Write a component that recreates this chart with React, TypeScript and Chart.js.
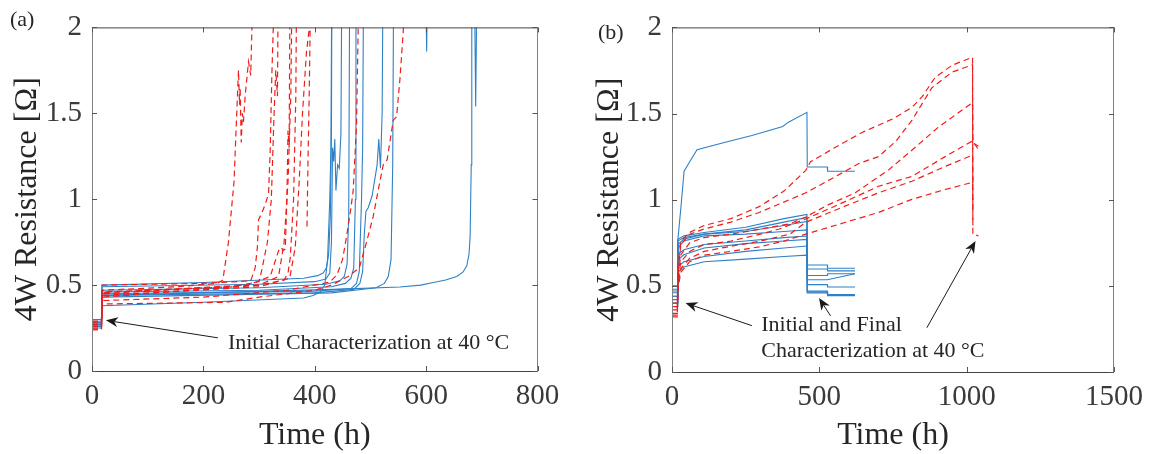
import React, { useEffect, useRef } from 'react';
import { Chart, registerables } from 'chart.js';
Chart.register(...registerables);

type P = [number, number];

// ---------- Panel (a) data: [time h, resistance Ohm] ----------
const aBlue1: P[] = [[0,0.30],[17,0.30],[18,0.50],[200,0.515],[380,0.54],[405,0.555],[415,0.57],[421,0.60],[425,0.68],[428,0.9],[430,1.4],[431,2.5]];
const aBlue2: P[] = [[0,0.29],[17,0.29],[18,0.49],[300,0.505],[400,0.52],[420,0.535],[427,0.57],[430,0.75],[432,1.3],[434,1.22],[436,1.35],[438,1.05],[441,1.2],[444,1.18],[447,1.38],[449,2.5]];
const aBlue3: P[] = [[0,0.28],[17,0.28],[18,0.47],[300,0.485],[420,0.505],[445,0.525],[453,0.55],[458,0.62],[461,0.9],[463,2.5],[598,2.5],[601,1.86],[603,2.5]];
const aBlue4: P[] = [[0,0.28],[17,0.28],[18,0.46],[300,0.47],[430,0.49],[455,0.51],[465,0.54],[470,0.6],[473,1.0],[474,2.5]];
const aBlue5: P[] = [[0,0.27],[17,0.27],[18,0.45],[400,0.465],[465,0.48],[475,0.51],[480,0.58],[484,1.0],[486,1.3],[488,2.5]];
const aBlue6: P[] = [[0,0.27],[17,0.27],[18,0.44],[400,0.455],[470,0.475],[481,0.51],[486,0.58],[489,0.8],[492,0.93],[496,0.95],[503,1.02],[512,1.2],[515,1.35],[518,1.18],[521,1.5],[523,2.5]];
const aBlue7: P[] = [[0,0.26],[17,0.26],[18,0.43],[430,0.455],[510,0.485],[525,0.51],[532,0.55],[537,0.65],[540,1.2],[542,2.5]];
const aBlue8: P[] = [[0,0.25],[17,0.25],[18,0.38],[200,0.40],[380,0.425],[397,0.44],[410,0.46],[418,0.50],[423,0.65],[427,1.0],[429,1.3],[431,2.5]];
const aBlue9: P[] = [[0,0.26],[17,0.26],[18,0.44],[200,0.455],[433,0.475],[553,0.489],[590,0.50],[613,0.515],[635,0.53],[655,0.55],[666,0.575],[673,0.612],[677,0.68],[679,0.782],[681,1.2],[682,2.5],[686,2.5],[689,1.54],[692,2.5]];

const aRed1: P[] = [[0,0.27],[17,0.27],[18,0.47],[150,0.49],[225,0.51],[235,0.53],[245,0.75],[255,1.1],[263,1.75],[265,1.55],[266,1.65],[268,1.33],[270,1.5],[272,1.45],[275,1.6],[281,1.8],[285,1.72],[288,2.1],[292,2.5]];
const aRed2: P[] = [[0,0.26],[17,0.26],[18,0.50],[200,0.51],[285,0.525],[293,0.6],[297,0.72],[299,0.88],[305,0.92],[311,0.97],[317,1.03],[320,1.28],[323,1.73],[326,2.05],[328,2.5]];
const aRed3: P[] = [[0,0.25],[17,0.25],[18,0.46],[250,0.49],[300,0.52],[305,0.59],[315,0.75],[322,1.0],[327,1.5],[330,1.75],[333,1.6],[335,2.5]];
const aRed4: P[] = [[0,0.29],[17,0.29],[18,0.455],[280,0.50],[320,0.55],[335,0.70],[340,0.72],[343,0.70],[347,0.71],[350,1.0],[352,1.4],[354,1.3],[356,2.5]];
const aRed5: P[] = [[0,0.28],[17,0.28],[18,0.45],[300,0.50],[345,0.53],[352,0.57],[356,0.66],[362,1.0],[366,1.6],[368,2.5]];
const aRed6: P[] = [[0,0.27],[17,0.27],[18,0.44],[300,0.49],[355,0.54],[365,0.72],[372,1.1],[378,1.5],[385,1.85],[392,2.05],[390,1.6],[388,1.25],[386,0.82]];
const aRed7: P[] = [[0,0.26],[17,0.26],[18,0.43],[300,0.50],[335,0.55],[345,0.75],[352,1.1],[357,1.6],[360,2.5]];
const aRed8: P[] = [[0,0.24],[17,0.24],[18,0.41],[200,0.43],[350,0.47],[427,0.517],[440,0.56],[450,0.65],[457,0.78],[465,0.95],[469,1.05],[475,1.43],[478,2.0],[480,2.5]];
const aRed9: P[] = [[0,0.24],[17,0.24],[18,0.39],[240,0.40],[300,0.43],[400,0.47],[430,0.50],[460,0.55],[480,0.60],[493,0.75],[505,0.90],[515,1.07],[523,1.2],[530,1.23],[541,1.46],[547,1.48],[553,1.7],[559,1.98],[562,2.5]];

// ---------- Panel (b) data ----------
const bBlueTop: P[] = [[0,0.44],[18,0.44],[20,0.77],[30,0.95],[41,1.165],[60,1.22],[85,1.29],[184,1.335],[271,1.373],[376,1.425],[395,1.45],[458,1.507],[459,1.19],[527,1.19],[528,1.165],[621,1.165]];
const bBlue1: P[] = [[0,0.50],[18,0.50],[20,0.77],[40,0.79],[109,0.81],[250,0.84],[380,0.89],[458,0.915],[459,0.621],[527,0.621],[528,0.602],[621,0.602]];
const bBlue2: P[] = [[0,0.48],[18,0.48],[20,0.76],[40,0.78],[109,0.80],[250,0.825],[380,0.87],[458,0.897],[459,0.598],[527,0.598],[528,0.587],[621,0.587]];
const bBlue3: P[] = [[0,0.47],[18,0.47],[20,0.74],[40,0.77],[109,0.80],[250,0.815],[380,0.85],[458,0.874],[459,0.56],[527,0.56],[528,0.57],[621,0.57]];
const bBlue4: P[] = [[0,0.46],[18,0.46],[20,0.72],[40,0.76],[109,0.79],[250,0.80],[380,0.815],[458,0.825],[459,0.535],[527,0.535],[621,0.57]];
const bBlue5: P[] = [[0,0.44],[18,0.44],[20,0.68],[40,0.71],[109,0.74],[250,0.76],[380,0.78],[458,0.789],[459,0.507],[527,0.507],[528,0.493],[621,0.493]];
const bBlue6: P[] = [[0,0.42],[18,0.42],[20,0.65],[40,0.68],[109,0.72],[250,0.745],[380,0.76],[458,0.77],[459,0.459],[527,0.459],[528,0.446],[621,0.446]];
const bBlue7: P[] = [[0,0.40],[18,0.40],[20,0.61],[40,0.64],[109,0.67],[250,0.70],[380,0.72],[458,0.731],[459,0.465],[527,0.465],[528,0.45],[621,0.45]];
const bBlue8: P[] = [[0,0.38],[18,0.38],[20,0.58],[40,0.61],[109,0.64],[250,0.655],[380,0.67],[458,0.678],[459,0.47],[527,0.47],[528,0.443],[621,0.443]];

const bRedA: P[] = [[0,0.40],[18,0.40],[20,0.62],[30,0.76],[60,0.81],[109,0.85],[200,0.89],[296,0.96],[380,1.05],[454,1.17],[470,1.22],[550,1.30],[645,1.39],[750,1.47],[814,1.535],[850,1.60],[893,1.71],[950,1.78],[1020,1.827],[1021,0.80],[1040,0.79]];
const bRedB: P[] = [[0,0.38],[18,0.38],[20,0.58],[30,0.74],[60,0.80],[109,0.83],[200,0.87],[296,0.926],[364,0.975],[454,1.04],[540,1.12],[634,1.21],[701,1.25],[760,1.34],[814,1.46],[882,1.65],[950,1.74],[1020,1.783],[1021,0.85]];
const bRedC: P[] = [[0,0.36],[18,0.36],[20,0.55],[30,0.68],[60,0.75],[109,0.78],[200,0.80],[300,0.83],[400,0.86],[454,0.90],[530,0.97],[622,1.04],[735,1.173],[814,1.287],[904,1.421],[1020,1.564],[1021,1.33],[1040,1.31]];
const bRedD: P[] = [[0,0.34],[18,0.34],[20,0.53],[30,0.64],[60,0.70],[109,0.74],[200,0.76],[300,0.80],[364,0.83],[454,0.888],[589,0.99],[701,1.078],[814,1.135],[927,1.25],[1020,1.341],[1025,1.33],[1040,1.29]];
const bRedE: P[] = [[0,0.33],[18,0.33],[20,0.51],[30,0.60],[60,0.66],[109,0.70],[200,0.73],[300,0.76],[400,0.80],[454,0.869],[589,0.964],[701,1.04],[814,1.107],[927,1.193],[1020,1.259],[1021,1.10]];
const bRedF: P[] = [[0,0.32],[18,0.32],[20,0.48],[30,0.58],[60,0.64],[109,0.678],[200,0.70],[296,0.726],[380,0.76],[454,0.80],[589,0.869],[701,0.926],[814,1.002],[927,1.059],[1020,1.101],[1021,0.95]];

// ---------- ticks & labels ----------
const aXTicks = [0, 200, 400, 600, 800];
const bXTicks = [0, 500, 1000, 1500];
const yTicks = [0, 0.5, 1, 1.5, 2];
const xTitle = 'Time (h)';
const yTitle = '4W Resistance [Ω]';

// annotations in data units: [text, t, R]; arrows [tailT, tailR, headT, headR]
const aNotes: [string, number, number][] = [['Initial Characterization at 40 °C', 244, 0.13]];
const aArrows: [number, number, number, number][] = [[226, 0.193, 25, 0.295]];
const bNotes: [string, number, number][] = [['Initial and Final', 303, 0.24], ['Characterization at 40 °C', 303, 0.086]];
const bArrows: [number, number, number, number][] = [[271, 0.269, 46, 0.40], [538, 0.326, 499, 0.429], [865, 0.257, 1030, 0.76]];

const BLUE = '#2f80c6';
const RED = '#f01c1c';
const FONT = "'Liberation Serif', 'Times New Roman', serif";
const TXT = '#262626';

interface PanelCfg {
  blue: P[][];
  red: P[][];
  xMax: number;
  xTicks: number[];
  label: string;
  labelX: number;
  labelY: number;
  top: number;
  right: number;
  xAxisH: number;
  yTitlePad: number;
  notes: [string, number, number][];
  arrows: [number, number, number, number][];
}

const panelA: PanelCfg = {
  blue: [aBlue1, aBlue2, aBlue3, aBlue4, aBlue5, aBlue6, aBlue7, aBlue8, aBlue9],
  red: [aRed1, aRed2, aRed3, aRed4, aRed5, aRed6, aRed7, aRed8, aRed9],
  xMax: 800, xTicks: aXTicks, label: '(a)', labelX: 10, labelY: 26,
  top: 19, right: 42.5, xAxisH: 83, yTitlePad: 12, notes: aNotes, arrows: aArrows,
};
const panelB: PanelCfg = {
  blue: [bBlueTop, bBlue1, bBlue2, bBlue3, bBlue4, bBlue5, bBlue6, bBlue7, bBlue8],
  red: [bRedA, bRedB, bRedC, bRedD, bRedE, bRedF],
  xMax: 1500, xTicks: bXTicks, label: '(b)', labelX: 18, labelY: 39,
  top: 22, right: 35, xAxisH: 82, yTitlePad: 14, notes: bNotes, arrows: bArrows,
};

function drawArrow(ctx: CanvasRenderingContext2D, x1: number, y1: number, x2: number, y2: number) {
  const a = Math.atan2(y2 - y1, x2 - x1);
  const c = Math.cos(a), s = Math.sin(a);
  const L = 12, W = 5, back = 3.5;
  ctx.beginPath();
  ctx.moveTo(x1, y1);
  ctx.lineTo(x2 - (L - back) * c, y2 - (L - back) * s);
  ctx.stroke();
  ctx.beginPath();
  ctx.moveTo(x2, y2);
  ctx.lineTo(x2 - L * c + W * s, y2 - L * s - W * c);
  ctx.lineTo(x2 - (L - back) * c, y2 - (L - back) * s);
  ctx.lineTo(x2 - L * c - W * s, y2 - L * s + W * c);
  ctx.closePath();
  ctx.fill();
}

function buildConfig(cfg: PanelCfg): any {
  const ds = (d: P[], color: string, dashed: boolean) => ({
    data: d.map(([x, y]) => ({ x, y })),
    borderColor: color,
    borderWidth: dashed ? 1.2 : 1.1,
    borderDash: dashed ? [6, 4] : [],
    pointRadius: 0,
    fill: false,
    tension: 0,
  });
  const decor = {
    id: 'decor',
    afterDraw(chart: any) {
      const { ctx, chartArea: ca, scales } = chart;
      const xs = scales.x, ys = scales.y;
      ctx.save();
      ctx.lineWidth = 1;
      ctx.strokeStyle = '#444';
      ctx.beginPath();
      ctx.moveTo(ca.left, ca.top + 0.5); ctx.lineTo(ca.right, ca.top + 0.5);
      ctx.moveTo(ca.left, ca.bottom + 0.5); ctx.lineTo(ca.right, ca.bottom + 0.5);
      ctx.stroke();
      ctx.strokeStyle = '#808080';
      ctx.beginPath();
      ctx.moveTo(Math.round(ca.left) + 0.5, ca.top); ctx.lineTo(Math.round(ca.left) + 0.5, ca.bottom);
      ctx.moveTo(Math.round(ca.right) - 0.5, ca.top); ctx.lineTo(Math.round(ca.right) - 0.5, ca.bottom);
      ctx.stroke();
      ctx.strokeStyle = '#555';
      ctx.beginPath();
      for (const t of xs.ticks) {
        const px = Math.round(xs.getPixelForValue(t.value)) + 0.5;
        ctx.moveTo(px, ca.bottom); ctx.lineTo(px, ca.bottom - 5);
        ctx.moveTo(px, ca.top); ctx.lineTo(px, ca.top + 5);
      }
      for (const t of ys.ticks) {
        const py = Math.round(ys.getPixelForValue(t.value)) + 0.5;
        ctx.moveTo(ca.left, py); ctx.lineTo(ca.left + 5, py);
        ctx.moveTo(ca.right, py); ctx.lineTo(ca.right - 5, py);
      }
      ctx.stroke();
      ctx.fillStyle = TXT;
      ctx.font = `22px ${FONT}`;
      ctx.textAlign = 'left';
      ctx.textBaseline = 'alphabetic';
      ctx.fillText(cfg.label, cfg.labelX, cfg.labelY);
      ctx.font = `22px ${FONT}`;
      for (const [txt, t, r] of cfg.notes) {
        ctx.fillText(txt, xs.getPixelForValue(t), ys.getPixelForValue(r));
      }
      ctx.strokeStyle = '#1a1a1a';
      ctx.fillStyle = '#1a1a1a';
      ctx.lineWidth = 1;
      for (const [t1, r1, t2, r2] of cfg.arrows) {
        drawArrow(ctx, xs.getPixelForValue(t1), ys.getPixelForValue(r1), xs.getPixelForValue(t2), ys.getPixelForValue(r2));
      }
      ctx.restore();
    },
  };
  return {
    type: 'line',
    data: {
      datasets: [
        ...cfg.red.map((d) => ds(d, RED, true)),
        ...cfg.blue.map((d) => ds(d, BLUE, false)),
      ],
    },
    options: {
      animation: false,
      responsive: false,
      events: [],
      layout: { padding: { top: cfg.top, right: cfg.right, left: 0, bottom: 0 } },
      plugins: { legend: { display: false }, tooltip: { enabled: false } },
      scales: {
        x: {
          type: 'linear', min: 0, max: cfg.xMax,
          afterFit: (s: any) => { s.height = cfg.xAxisH; },
          afterBuildTicks: (s: any) => { s.ticks = cfg.xTicks.map((v) => ({ value: v })); },
          grid: { display: false, drawTicks: false },
          border: { display: false },
          ticks: { font: { family: FONT, size: 29 }, color: '#3a3a3a', padding: 8, maxRotation: 0, autoSkip: false, callback: (v: any) => String(v) },
          title: { display: true, text: xTitle, color: TXT, font: { family: FONT, size: 32, lineHeight: 1 }, padding: { top: 0, bottom: 2 } },
        },
        y: {
          type: 'linear', min: 0, max: 2,
          afterFit: (s: any) => { s.width = 92; },
          afterBuildTicks: (s: any) => { s.ticks = yTicks.map((v) => ({ value: v })); },
          grid: { display: false, drawTicks: false },
          border: { display: false },
          ticks: { font: { family: FONT, size: 29 }, color: '#3a3a3a', padding: 10, autoSkip: false, callback: (v: any) => String(v) },
          title: { display: true, text: yTitle, color: TXT, font: { family: FONT, size: 32, lineHeight: 1 }, padding: { top: cfg.yTitlePad, bottom: 0 } },
        },
      },
    },
    plugins: [decor],
  };
}

function Panel({ cfg, left, width }: { cfg: PanelCfg; left: number; width: number }) {
  const ref = useRef<HTMLCanvasElement>(null);
  useEffect(() => {
    const chart = new Chart(ref.current as HTMLCanvasElement, buildConfig(cfg));
    return () => chart.destroy();
  }, [cfg]);
  return (
    <canvas
      ref={ref}
      width={width}
      height={454}
      style={{ position: 'absolute', left, top: 0, width, height: 454 }}
    />
  );
}

export default function App() {
  return (
    <div style={{ position: 'absolute', left: 0, top: 0, width: 1151, height: 454, background: '#fff', overflow: 'hidden' }}>
      <Panel cfg={panelA} left={0} width={580} />
      <Panel cfg={panelB} left={580} width={571} />
    </div>
  );
}
